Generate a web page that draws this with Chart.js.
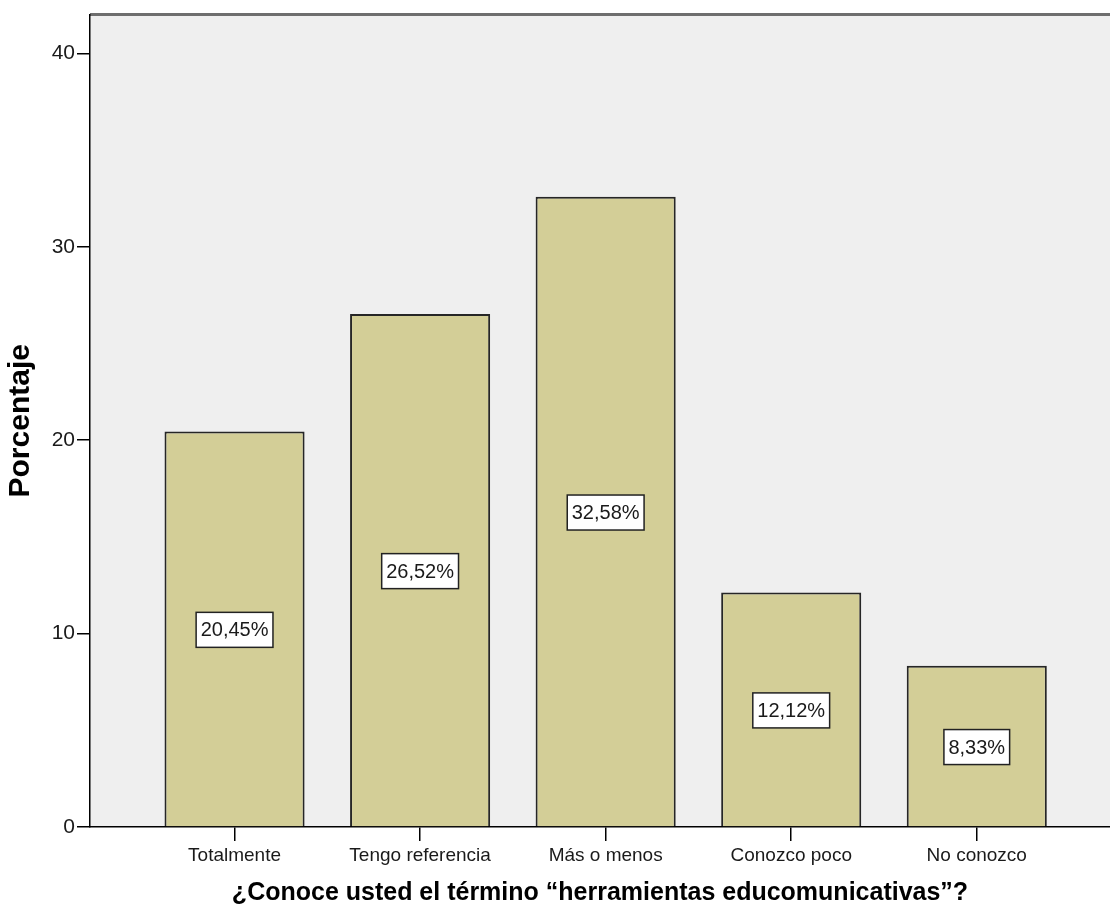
<!DOCTYPE html>
<html>
<head>
<meta charset="utf-8">
<script src="https://cdn.jsdelivr.net/npm/chart.js@4.4.0/dist/chart.umd.min.js"></script>
<style>
    html, body { margin: 0; padding: 0; background: #ffffff; }
    #wrap { width: 1110px; height: 917px; }
</style>
</head>
<body>
<div id="wrap"><canvas id="barChart" width="1110" height="917"></canvas></div>
<script>
const categories = ['Totalmente', 'Tengo referencia', 'Más o menos', 'Conozco poco', 'No conozco'];
const percentages = [20.45, 26.52, 32.58, 12.12, 8.33];
const yTicks = [0, 10, 20, 30, 40];

const FONT = '"Liberation Sans", Arial, sans-serif';

// plot background + top frame line
const backgroundPlugin = {
    id: 'plotBackground',
    beforeDraw(chart) {
        const { ctx, chartArea } = chart;
        ctx.save();
        ctx.fillStyle = '#efefef';
        ctx.fillRect(chartArea.left, chartArea.top, chartArea.right - chartArea.left, chartArea.bottom - chartArea.top);
        ctx.strokeStyle = '#6e6e6e';
        ctx.lineWidth = 3;
        ctx.beginPath();
        ctx.moveTo(chartArea.left, chartArea.top);
        ctx.lineTo(chartArea.right, chartArea.top);
        ctx.stroke();
        ctx.restore();
    }
};

// white boxed percentage labels in the middle of each bar
const boxLabelPlugin = {
    id: 'boxLabels',
    afterDatasetsDraw(chart) {
        const { ctx } = chart;
        const meta = chart.getDatasetMeta(0);
        ctx.save();
        ctx.font = '20px ' + FONT;
        ctx.textAlign = 'center';
        ctx.textBaseline = 'middle';
        meta.data.forEach((bar, i) => {
            const text = percentages[i].toFixed(2).replace('.', ',') + '%';
            const w = ctx.measureText(text).width + 9;
            const h = 35;
            const cx = bar.x;
            const cy = (bar.y + bar.base) / 2 + 1;
            ctx.fillStyle = '#ffffff';
            ctx.fillRect(cx - w / 2, cy - h / 2, w, h);
            ctx.strokeStyle = '#222222';
            ctx.lineWidth = 1.5;
            ctx.strokeRect(cx - w / 2, cy - h / 2, w, h);
            ctx.fillStyle = '#1a1a1a';
            ctx.fillText(text, cx, cy + 1);
        });
        ctx.restore();
    }
};

const ctx = document.getElementById('barChart').getContext('2d');

const barChart = new Chart(ctx, {
    type: 'bar',
    data: {
        datasets: [{
            data: percentages.map((v, i) => ({ x: i, y: v })),
            backgroundColor: '#d3ce97',
            borderColor: '#262626',
            borderWidth: 2,
            barPercentage: 0.755,
            categoryPercentage: 1
        }]
    },
    options: {
        responsive: false,
        animation: false,
        layout: { padding: { top: 14, right: 0, left: 0, bottom: 0 } },
        plugins: {
            legend: { display: false },
            tooltip: { enabled: false }
        },
        scales: {
            x: {
                type: 'linear',
                offset: false,
                min: -0.779,
                max: 4.718,
                afterFit: (scale) => { scale.height = 90; },
                grid: { display: true, offset: false, drawOnChartArea: false, drawTicks: true, tickLength: 14, color: '#000000', lineWidth: 1.5 },
                border: { display: true, color: '#000000', width: 1.5 },
                ticks: {
                    stepSize: 1,
                    includeBounds: false,
                    autoSkip: false,
                    maxRotation: 0,
                    padding: 3,
                    color: '#1a1a1a',
                    font: { family: FONT, size: 19 },
                    callback: (value) => categories[value] ?? ''
                },
                title: {
                    display: true,
                    text: '¿Conoce usted el término “herramientas educomunicativas”?',
                    color: '#000000',
                    font: { family: FONT, size: 25, weight: 'bold' },
                    padding: { top: 0, bottom: 9 }
                }
            },
            y: {
                min: 0,
                max: 42,
                afterFit: (scale) => { scale.width = 90; },
                afterBuildTicks: (scale) => { scale.ticks = yTicks.map(v => ({ value: v })); },
                grid: { display: true, drawOnChartArea: false, drawTicks: true, tickLength: 13, color: '#000000', lineWidth: 1.5 },
                border: { display: true, color: '#000000', width: 1.5 },
                ticks: {
                    padding: 2,
                    color: '#1a1a1a',
                    font: { family: FONT, size: 21 }
                },
                title: {
                    display: true,
                    text: 'Porcentaje',
                    color: '#000000',
                    font: { family: FONT, size: 30, weight: 'bold' },
                    padding: { top: 3, bottom: 0 }
                }
            }
        }
    },
    plugins: [backgroundPlugin, boxLabelPlugin]
});
</script>
</body>
</html>
